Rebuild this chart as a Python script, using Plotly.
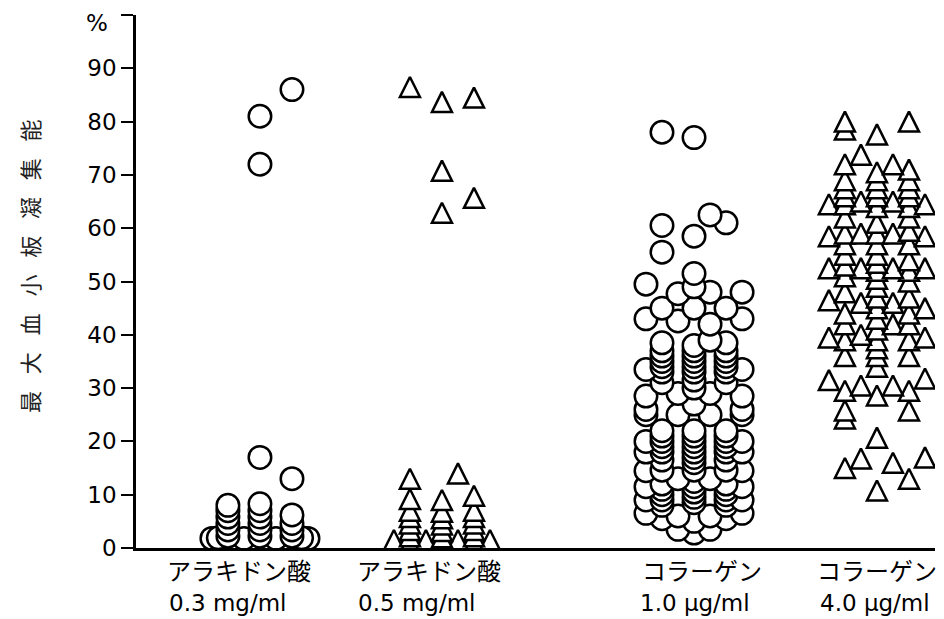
import plotly.graph_objects as go

# ---------------- data ----------------
# group positions on the x axis and column step of the swarm
group_pos = [1.0, 2.0, 3.385, 4.39]
col_step = 0.088

line1_labels = ["アラキドン酸", "アラキドン酸", "コラーゲン", "コラーゲン"]
line2_labels = ["0.3 mg/ml", "0.5 mg/ml", "1.0 μg/ml", "4.0 μg/ml"]
y_title_chars = ["最", "大", "血", "小", "板", "凝", "集", "能"]

# Group 1: arachidonic acid 0.3 mg/ml (circles)
g1_cols = [0, 0, 2, 0, 2,
           -3, -2.6, -2, -2, -2, -2, -2, -2, -1,
           0, 0, 0, 0, 0, 0, 1, 2, 2, 2, 2, 2.6, 3]
g1_vals = [81, 72, 86, 17, 13,
           1.8, 1.9, 2.2, 3.4, 4.6, 5.8, 7.0, 8.0, 1.8,
           2.2, 3.4, 4.6, 5.8, 7.0, 8.3, 1.8, 2.2, 3.4, 4.6, 6.2, 1.9, 1.8]

# Group 2: arachidonic acid 0.5 mg/ml (triangles)
g2_cols = [-2, 0, 2, 0, 2, 0,
           -2, 1, -2, 0, 2,
           -2, -2, -2, -2, -2,
           0, 0, 0, 0, 0,
           2, 2, 2, 2, 2,
           -3, -1, 1, 3]
g2_vals = [86.5, 83.7, 84.5, 70.8, 65.7, 62.9,
           13, 14, 9.2, 9.0, 9.8,
           7.0, 5.8, 4.6, 3.4, 2.2,
           6.8, 5.6, 4.4, 3.2, 2.0,
           7.0, 5.8, 4.6, 3.4, 2.2,
           1.5, 1.5, 1.5, 1.5]

# Group 3: collagen 1.0 ug/ml (circles), listed column by column
g3_columns = {
    -3: [49.5, 43, 33.5, 28.5, 26, 25, 20, 18, 14.5, 11.5, 9, 6.5],
    -2: [78, 60.5, 55.5, 45, 38.5, 37, 36, 35, 34, 33, 31, 22, 21, 20, 19, 18,
         16.5, 14.6, 12, 11, 10, 9, 8, 5.5],
    -1: [47.7, 42.6, 29, 25, 13, 6, 3.5],
    0: [77, 58.5, 51.5, 49, 45, 38, 37, 36, 35, 34, 33, 31.5, 30, 27, 22, 21, 20,
        19, 18, 17, 16, 14.6, 12.5, 11.5, 10.5, 9.5, 8.5, 5, 2.8],
    1: [62.5, 48, 42, 39, 29, 25, 13, 6, 3.5],
    2: [61, 45, 38.5, 37, 36, 35, 34, 33, 31, 22, 21, 20, 19, 18, 16.5, 14.6,
        12, 11, 10, 9, 8, 5.5],
    3: [48, 43, 33.5, 28.5, 26, 25, 20, 18, 14.5, 11.5, 9, 6.5],
}

# Group 4: collagen 4.0 ug/ml (triangles), listed column by column
g4_columns = {
    -3: [64.5, 58.5, 52.5, 46.5, 39.5, 31.5],
    -2: [80, 78.5, 72, 69, 67.5, 66, 64.5, 62, 59, 57, 55, 53, 51, 48, 44, 42,
         39, 36, 29.5, 25.8, 24.3, 15],
    -1: [73.8, 65, 59, 52.5, 46, 40, 30.5, 16.8],
    0: [77.6, 70.5, 69, 67.5, 66, 64, 61, 59, 57, 55, 53.5, 52, 50.5, 49, 47,
        45, 43, 41, 39, 37.5, 36, 34, 28.6, 20.7, 10.8],
    1: [72, 65, 59, 52.5, 46, 42, 30.5, 16],
    2: [80, 71, 69, 67.5, 66, 64, 62, 59.5, 57, 54, 52, 50, 47, 44, 42, 39, 36,
        29.5, 25.8, 13],
    3: [64.5, 58.5, 52.5, 45, 39.5, 31.8, 17],
}

y_ticks = [0, 10, 20, 30, 40, 50, 60, 70, 80, 90, 100]
y_ticktext = ["0", "10", "20", "30", "40", "50", "60", "70", "80", "90", ""]


def flatten(columns):
    cols, vals = [], []
    for c, vs in columns.items():
        for v in vs:
            cols.append(c)
            vals.append(v)
    return cols, vals


def swarm(center, cols, vals):
    pts = sorted(zip(vals, cols))  # higher values drawn on top
    xs = [center + c * col_step for v, c in pts]
    ys = [v for v, c in pts]
    return xs, ys


g3_cols, g3_vals = flatten(g3_columns)
g4_cols, g4_vals = flatten(g4_columns)

# ---------------- figure ----------------
# the page body has an 8px margin, so the figure is drawn 8px smaller
OFF = 8
W, H = 944 - OFF, 619 - OFF
ML, MR, MT, MB = 136 - OFF, 9, 15 - OFF, 71
plot_w = W - ML - MR
plot_h = H - MT - MB
y_range = [0, 100]
px_per_unit = plot_h / (y_range[1] - y_range[0])

CIRCLE_SIZE = 22.5
TRI_SIZE = 20  # arrow-up marker: width = height = size, apex at the data point
tri_shift = (TRI_SIZE / 2) / px_per_unit  # centre the triangle on its value

LATIN = "DejaVu Sans"
CJK = "Noto Sans CJK JP"

fig = go.Figure()

circle_marker = dict(symbol="circle", size=CIRCLE_SIZE, color="white",
                     line=dict(color="black", width=2.5))
tri_marker = dict(symbol="arrow-up", size=TRI_SIZE, color="white",
                  line=dict(color="black", width=2.5))

x, y = swarm(group_pos[0], g1_cols, g1_vals)
fig.add_trace(go.Scatter(x=x, y=y, mode="markers", marker=circle_marker,
                         showlegend=False, hoverinfo="y"))
x, y = swarm(group_pos[2], g3_cols, g3_vals)
fig.add_trace(go.Scatter(x=x, y=y, mode="markers", marker=circle_marker,
                         showlegend=False, hoverinfo="y"))
x, y = swarm(group_pos[1], g2_cols, g2_vals)
fig.add_trace(go.Scatter(x=x, y=y, mode="markers", marker=tri_marker,
                         yaxis="y2", showlegend=False, hoverinfo="y"))
x, y = swarm(group_pos[3], g4_cols, g4_vals)
fig.add_trace(go.Scatter(x=x, y=y, mode="markers", marker=tri_marker,
                         yaxis="y2", showlegend=False, hoverinfo="y"))

x_range = [0.319, 4.709]


def px_to_paper_x(px):
    return (px - 136) / plot_w


def px_to_paper_y(py):
    return (548 - py) / plot_h


annotations = []
l1_x = [0.885, 1.93, 3.43, 4.39]
l2_x = [0.82, 1.86, 3.39, 4.38]
for i in range(4):
    annotations.append(dict(x=l1_x[i], y=px_to_paper_y(569), xref="x", yref="paper",
                            text=line1_labels[i], showarrow=False,
                            xanchor="center", yanchor="middle",
                            font=dict(family=CJK, size=24, color="black")))
    annotations.append(dict(x=l2_x[i], y=px_to_paper_y(603), xref="x", yref="paper",
                            text=line2_labels[i], showarrow=False,
                            xanchor="center", yanchor="middle",
                            font=dict(family=LATIN, size=23, color="black")))

# vertical axis title, one rotated character at a time (bottom to top)
title_bottom, title_step = 402, 38.8
for k, ch in enumerate(y_title_chars):
    annotations.append(dict(x=px_to_paper_x(29), y=px_to_paper_y(title_bottom - k * title_step),
                            xref="paper", yref="paper", text=ch, textangle=-90,
                            showarrow=False, xanchor="center", yanchor="middle",
                            font=dict(family=CJK, size=22, color="#222")))

annotations.append(dict(x=px_to_paper_x(97), y=px_to_paper_y(23),
                        xref="paper", yref="paper", text="%", showarrow=False,
                        xanchor="center", yanchor="middle",
                        font=dict(family=LATIN, size=23, color="black")))

fig.update_layout(
    width=W, height=H,
    margin=dict(l=ML, r=MR, t=MT, b=MB, pad=0),
    paper_bgcolor="white", plot_bgcolor="white",
    xaxis=dict(range=x_range, showgrid=False, zeroline=False, showticklabels=False,
               ticks="", showline=True, linecolor="black", linewidth=2.5),
    yaxis=dict(range=y_range, tickvals=y_ticks, ticktext=y_ticktext,
               showgrid=False, zeroline=False, showline=True, linecolor="black",
               linewidth=2.5, ticks="outside", ticklen=12, tickwidth=2.2,
               tickcolor="black",
               tickfont=dict(family=LATIN, size=23, color="black")),
    yaxis2=dict(range=[y_range[0] - tri_shift, y_range[1] - tri_shift],
                overlaying="y", visible=False),
    annotations=annotations,
)

fig.write_html("out.html")
